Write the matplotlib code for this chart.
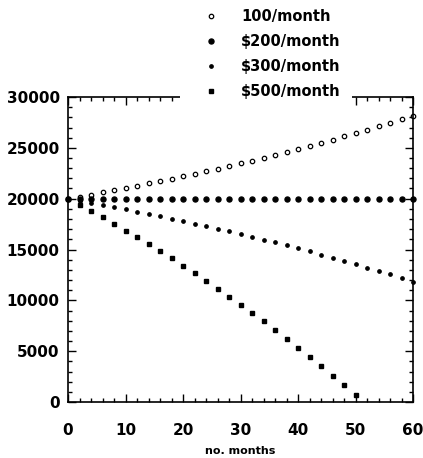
import matplotlib
matplotlib.use("Agg")
import matplotlib.pyplot as plt
from matplotlib.ticker import MultipleLocator
from matplotlib.patches import Rectangle

months = [0, 2, 4, 6, 8, 10, 12, 14, 16, 18, 20, 22, 24, 26, 28, 30,
          32, 34, 36, 38, 40, 42, 44, 46, 48, 50, 52, 54, 56, 58, 60]

bal_100 = [20000, 20201, 20406, 20615, 20829, 21046, 21268, 21495, 21726, 21961,
           22202, 22447, 22697, 22953, 23213, 23478, 23749, 24026, 24308, 24595,
           24889, 25188, 25493, 25805, 26122, 26446, 26777, 27114, 27458, 27809, 28167]
bal_200 = [20000] * 31
bal_300 = [20000, 19799, 19594, 19385, 19171, 18954, 18732, 18505, 18274, 18039,
           17798, 17553, 17303, 17047, 16787, 16522, 16251, 15974, 15692, 15405,
           15111, 14812, 14507, 14195, 13878, 13554, 13223, 12886, 12542, 12191, 11833]
months_500 = [0, 2, 4, 6, 8, 10, 12, 14, 16, 18, 20, 22, 24, 26, 28, 30,
              32, 34, 36, 38, 40, 42, 44, 46, 48, 50]
bal_500 = [20000, 19397, 18782, 18154, 17514, 16861, 16195, 15516, 14823, 14116,
           13394, 12659, 11908, 11142, 10361, 9565, 8752, 7923, 7077, 6214,
           5334, 4436, 3520, 2586, 1633, 661]

labels = ["100/month", "$200/month", "$300/month", "$500/month"]
xticks = [0, 10, 20, 30, 40, 50, 60]
yticks = [0, 5000, 10000, 15000, 20000, 25000, 30000]

plt.rcParams['font.family'] = ['DejaVu Sans']
plt.rcParams['font.weight'] = 'bold'

fig = plt.figure(figsize=(4.23, 4.58), dpi=100)
ax = fig.add_axes([68/423, 1-402/458, (413-68)/423, (402-97)/458])

kw = dict(linestyle='none', color='black', clip_on=False)
ax.plot(months, bal_100, marker='o', ms=3.2, mfc='white', mec='black', mew=0.9, label=labels[0], **kw)
ax.plot(months, bal_200, marker='o', ms=3.6, label=labels[1], **kw)
ax.plot(months, bal_300, marker='o', ms=2.4, label=labels[2], **kw)
ax.plot(months_500, bal_500, marker='s', ms=2.3, label=labels[3], **kw)

ax.set_xlim(0, 60)
ax.set_ylim(0, 30000)
ax.set_xticks(xticks)
ax.set_yticks(yticks)
ax.set_xticklabels([str(t) for t in xticks])
ax.set_yticklabels([str(t) for t in yticks])
ax.xaxis.set_minor_locator(MultipleLocator(2))
ax.yaxis.set_minor_locator(MultipleLocator(1000))
ax.tick_params(which='both', direction='in', top=True, right=True, width=1.0)
ax.tick_params(which='major', length=6)
ax.tick_params(which='minor', length=3)
ax.tick_params(axis='x', which='major', pad=15, labelsize=11)
ax.tick_params(axis='y', which='major', pad=6, labelsize=11)
for s in ax.spines.values():
    s.set_linewidth(1.2)

ax.set_xlabel("no. months", fontsize=8, fontweight='bold', labelpad=6)

# white gap in the top frame behind the legend
fig.patches.append(Rectangle((180/423, 1-106/458), (352-180)/423, 14/458,
                             transform=fig.transFigure, facecolor='white',
                             edgecolor='none', zorder=5))

leg = fig.legend(loc='upper left', bbox_to_anchor=(199/423, 1-5/458),
                 frameon=False, fontsize=10.5, handlelength=1.0, handletextpad=1.6,
                 labelspacing=0.68, borderpad=0.3, borderaxespad=0, markerscale=1.0)
leg.set_zorder(10)

fig.savefig("out.png", dpi=100)
